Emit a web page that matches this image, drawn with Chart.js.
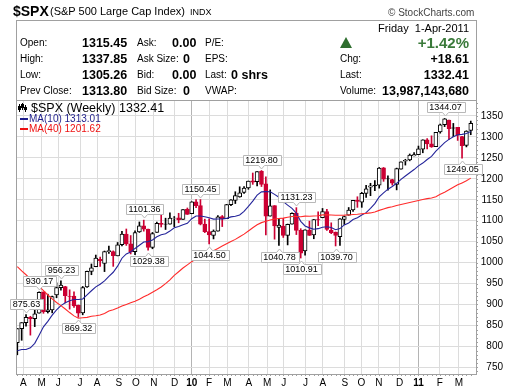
<!DOCTYPE html>
<html>
<head>
<meta charset="utf-8">
<script src="https://cdn.jsdelivr.net/npm/chart.js@4.4.1/dist/chart.umd.min.js"></script>
<style>
body { margin: 0; background: #fff; }
#wrap { position: relative; width: 520px; height: 391px; overflow: hidden; font-family: "Liberation Sans", Arial, sans-serif; color: #000; }
#wrap canvas { position: absolute; left: 0; top: 0; }
.t { position: absolute; white-space: nowrap; line-height: 14px; font-size: 10px; }
.v { font-weight: bold; font-size: 12.5px; }
#infobox { position: absolute; left: 16px; top: 20px; width: 461px; height: 81px; box-sizing: border-box; border: 1px solid #a0a0a0; }
#tri { position: absolute; left: 340px; top: 37px; width: 0; height: 0; border-left: 6px solid transparent; border-right: 6px solid transparent; border-bottom: 11px solid #2e6e2e; }
</style>
</head>
<body>
<div id="wrap">
  <canvas id="spxChart" width="520" height="391"></canvas>

  <div class="t" style="left:13px;top:3px;line-height:16px;font-size:14px;font-weight:bold">$SPX</div>
  <div class="t" style="left:50px;top:4px;font-size:11px">(S&amp;P 500 Large Cap Index)</div>
  <div class="t" style="left:190px;top:5px;font-size:9px">INDX</div>
  <div class="t" style="left:388px;top:6px;font-size:10px;color:#444">&copy; StockCharts.com</div>

  <div id="infobox"></div>
  <div class="t" style="right:51px;top:21px;font-size:11px">Friday&nbsp; 1-Apr-2011</div>

  <div class="t" style="left:20px;top:36px">Open:</div>
  <div class="t v" style="left:82px;top:36px">1315.45</div>
  <div class="t" style="left:137px;top:36px">Ask:</div>
  <div class="t v" style="left:172px;top:36px">0.00</div>
  <div class="t" style="left:205px;top:36px">P/E:</div>

  <div class="t" style="left:20px;top:52px">High:</div>
  <div class="t v" style="left:82px;top:52px">1337.85</div>
  <div class="t" style="left:137px;top:52px">Ask Size:</div>
  <div class="t v" style="left:183px;top:52px">0</div>
  <div class="t" style="left:205px;top:52px">EPS:</div>

  <div class="t" style="left:20px;top:68px">Low:</div>
  <div class="t v" style="left:82px;top:68px">1305.26</div>
  <div class="t" style="left:137px;top:68px">Bid:</div>
  <div class="t v" style="left:172px;top:68px">0.00</div>
  <div class="t" style="left:205px;top:68px">Last:</div>
  <div class="t v" style="left:231px;top:68px">0 shrs</div>

  <div class="t" style="left:20px;top:84px">Prev Close:</div>
  <div class="t v" style="left:82px;top:84px">1313.80</div>
  <div class="t" style="left:137px;top:84px">Bid Size:</div>
  <div class="t v" style="left:183px;top:84px">0</div>
  <div class="t" style="left:205px;top:84px">VWAP:</div>

  <div id="tri"></div>
  <div class="t" style="right:51px;top:35px;line-height:16px;font-size:15px;font-weight:bold;color:#3a7a3a">+1.42%</div>
  <div class="t" style="left:340px;top:52px">Chg:</div>
  <div class="t v" style="right:51px;top:52px">+18.61</div>
  <div class="t" style="left:340px;top:68px">Last:</div>
  <div class="t v" style="right:51px;top:68px">1332.41</div>
  <div class="t" style="left:340px;top:84px">Volume:</div>
  <div class="t v" style="right:51px;top:84px">13,987,143,680</div>

  <div class="t" style="left:31px;top:101px;font-size:12.5px">$SPX (Weekly) 1332.41</div>
  <div class="t" style="left:29px;top:112px;color:#1e1e8c">MA(10) 1313.01</div>
  <div class="t" style="left:29px;top:122px;color:#ee1111">MA(40) 1201.62</div>
</div>

<script>
// weekly bars, week ending 3-Apr-2009 .. 1-Apr-2011
const opens = [
  809.1, 842.5, 856.6, 869.6, 866.2, 879.0, 930.0, 883.0, 887.0, 923.0,
  940.0, 943.0, 919.0, 920.0, 898.0, 880.0, 942.0, 979.0, 990.0, 1008.0,
  998.0, 1026.0, 1026.0, 1016.0, 1043.0, 1068.0, 1045.0, 1026.0, 1073.0, 1088.0,
  1080.0, 1036.0, 1072.0, 1094.0, 1092.0, 1092.0, 1106.0, 1107.0, 1103.0, 1127.0,
  1116.6, 1145.0, 1136.0, 1092.0, 1074.0, 1065.0, 1075.0, 1110.0, 1105.0, 1138.0,
  1148.5, 1157.0, 1167.7, 1178.0, 1195.0, 1193.0, 1218.0, 1188.0, 1111.0, 1136.0,
  1084.0, 1087.0, 1064.9, 1092.0, 1118.0, 1077.0, 1028.0, 1077.0, 1066.0, 1102.9,
  1107.0, 1122.0, 1077.0, 1073.0, 1062.0, 1103.0, 1113.0, 1126.0, 1148.6, 1144.0,
  1165.0, 1180.0, 1185.0, 1185.0, 1226.0, 1200.0, 1198.0, 1186.6, 1223.0, 1242.0,
  1245.0, 1254.7, 1257.6, 1270.8, 1293.0, 1283.3, 1276.5, 1311.9, 1329.0, 1340.4,
  1321.6, 1322.7, 1301.0, 1279.5, 1315.5
];
const highs = [
  842.6, 856.6, 875.6, 871.8, 888.7, 930.2, 930.0, 924.6, 920.0, 951.7,
  956.2, 943.4, 935.0, 930.0, 898.7, 943.0, 979.8, 996.7, 1018.0, 1013.0,
  1027.6, 1039.5, 1028.0, 1048.0, 1074.8, 1080.2, 1064.6, 1076.0, 1097.0, 1101.4,
  1080.0, 1072.0, 1097.0, 1113.7, 1106.0, 1119.0, 1110.0, 1117.7, 1126.5, 1130.4,
  1145.4, 1150.4, 1150.5, 1103.7, 1104.7, 1078.0, 1112.4, 1112.4, 1139.0, 1150.2,
  1169.2, 1181.0, 1181.4, 1194.7, 1213.9, 1217.3, 1219.8, 1205.0, 1173.6, 1136.0,
  1104.0, 1105.7, 1092.0, 1119.0, 1131.2, 1081.0, 1078.0, 1099.0, 1103.0, 1120.9,
  1129.2, 1127.0, 1095.0, 1073.1, 1105.0, 1110.9, 1131.5, 1148.9, 1157.2, 1167.7,
  1184.4, 1189.4, 1196.1, 1227.1, 1227.1, 1207.4, 1198.9, 1225.6, 1240.4, 1246.7,
  1259.3, 1262.6, 1278.2, 1293.2, 1296.1, 1302.7, 1311.0, 1330.8, 1344.1, 1340.4,
  1332.3, 1322.7, 1301.5, 1314.8, 1337.9
];
const lows = [
  779.8, 814.5, 848.0, 826.8, 847.1, 879.0, 878.9, 879.6, 880.0, 916.0,
  934.0, 903.8, 888.9, 893.0, 869.3, 875.3, 941.0, 971.0, 990.0, 991.0,
  978.5, 1022.0, 991.0, 1016.0, 1040.0, 1041.0, 1020.6, 1019.0, 1072.0, 1075.0,
  1029.4, 1033.0, 1072.0, 1085.0, 1079.0, 1092.0, 1085.9, 1095.0, 1103.0, 1115.0,
  1116.6, 1131.0, 1090.0, 1071.6, 1044.5, 1056.5, 1075.0, 1086.0, 1105.0, 1136.0,
  1141.0, 1156.0, 1165.0, 1175.0, 1186.8, 1183.3, 1181.6, 1065.8, 1111.0, 1055.9,
  1040.8, 1060.0, 1042.2, 1092.0, 1066.9, 1010.9, 1018.0, 1064.9, 1056.9, 1088.0,
  1107.0, 1076.6, 1069.0, 1039.7, 1040.9, 1091.0, 1113.0, 1122.0, 1131.9, 1131.9,
  1155.7, 1159.7, 1171.7, 1177.7, 1194.0, 1173.0, 1185.0, 1173.6, 1223.0, 1232.8,
  1243.0, 1254.5, 1257.6, 1262.2, 1271.3, 1275.1, 1276.5, 1309.0, 1324.6, 1294.3,
  1300.6, 1291.7, 1249.1, 1276.2, 1305.3
];
const closes = [
  842.5, 856.6, 869.6, 866.2, 877.5, 929.2, 882.9, 887.0, 919.1, 940.1,
  946.2, 921.2, 918.9, 896.4, 879.1, 940.4, 979.3, 987.5, 1010.5, 1004.1,
  1026.1, 1028.9, 1016.4, 1042.7, 1068.3, 1044.4, 1025.2, 1071.5, 1087.7, 1079.6,
  1036.2, 1069.3, 1093.5, 1091.4, 1091.5, 1106.0, 1106.4, 1102.5, 1126.5, 1115.1,
  1145.0, 1136.0, 1091.8, 1073.9, 1066.2, 1075.5, 1109.2, 1104.5, 1138.7, 1150.0,
  1159.9, 1166.6, 1178.1, 1194.4, 1192.1, 1217.3, 1186.7, 1110.9, 1135.7, 1087.7,
  1089.4, 1064.9, 1091.6, 1117.5, 1076.8, 1022.6, 1078.0, 1064.9, 1102.7, 1101.6,
  1121.6, 1079.3, 1071.7, 1064.6, 1104.5, 1109.6, 1125.6, 1148.7, 1146.2, 1165.2,
  1176.2, 1183.1, 1183.3, 1225.9, 1199.2, 1199.7, 1189.4, 1224.7, 1240.4, 1243.9,
  1256.8, 1257.6, 1271.5, 1293.2, 1283.4, 1276.3, 1310.9, 1329.2, 1343.0, 1319.9,
  1321.2, 1304.3, 1279.2, 1313.8, 1332.4
];
const prevWeekClose = 815.9; // week before the first bar

const ma10 = [
  789.3, 792.4, 792.5, 796.4, 807.2, 826.6, 846.6, 859.6, 874.7, 887.1,
  897.4, 903.9, 908.8, 911.9, 912.0, 913.1, 922.8, 932.8, 942.0, 948.4,
  956.4, 967.1, 976.9, 991.5, 1010.4, 1020.8, 1025.4, 1033.8, 1041.5, 1049.1,
  1050.1, 1054.1, 1061.8, 1066.7, 1069.0, 1075.2, 1083.3, 1086.4, 1090.3, 1093.8,
  1104.7, 1111.4, 1111.2, 1109.5, 1106.9, 1103.9, 1104.2, 1104.4, 1105.6, 1109.1,
  1110.6, 1113.6, 1122.3, 1134.3, 1146.9, 1161.1, 1168.8, 1169.5, 1169.2, 1162.9,
  1155.9, 1145.7, 1137.1, 1129.4, 1117.9, 1098.4, 1087.5, 1082.9, 1079.6, 1081.0,
  1084.2, 1085.7, 1083.7, 1078.4, 1081.2, 1089.9, 1094.6, 1103.0, 1107.3, 1113.7,
  1119.2, 1129.5, 1140.7, 1156.8, 1166.3, 1175.3, 1181.7, 1189.3, 1198.7, 1206.6,
  1214.6, 1222.1, 1230.9, 1237.6, 1246.1, 1253.7, 1265.9, 1276.3, 1286.6, 1294.2,
  1300.6, 1305.3, 1306.1, 1308.1, 1313.0
];
const ma40 = [
  990.3, 980.1, 970.9, 961.0, 951.5, 943.3, 932.9, 922.6, 913.3, 904.7,
  897.3, 889.1, 880.7, 872.8, 867.2, 868.3, 869.2, 872.0, 873.1, 874.9,
  878.7, 884.4, 887.4, 891.6, 896.3, 900.2, 904.0, 907.5, 912.5, 918.2,
  923.3, 929.4, 935.0, 941.6, 949.7, 958.9, 969.5, 978.2, 987.1, 994.6,
  1002.2, 1009.1, 1014.7, 1019.9, 1024.6, 1028.3, 1033.9, 1039.4, 1044.8, 1050.1,
  1055.4, 1061.6, 1068.0, 1075.5, 1083.3, 1090.2, 1095.4, 1098.5, 1101.6, 1103.7,
  1105.3, 1106.2, 1108.1, 1110.0, 1110.2, 1109.6, 1111.0, 1110.8, 1111.2, 1111.7,
  1113.9, 1114.1, 1113.6, 1112.9, 1113.2, 1113.3, 1113.8, 1114.9, 1115.4, 1116.7,
  1117.5, 1118.6, 1120.9, 1124.7, 1128.1, 1131.2, 1133.2, 1136.2, 1138.7, 1141.1,
  1143.5, 1145.8, 1148.1, 1150.6, 1152.8, 1154.3, 1157.4, 1162.9, 1168.1, 1173.9,
  1179.7, 1185.6, 1190.3, 1195.2, 1201.6
];

// month ticks, in bar numbers
const monthPos = [2.4, 6.6, 10.4, 15.4, 19.3, 24.3, 28.2, 32.3, 37.1, 41,
  45, 49.2, 54.1, 58.3, 62.1, 67.1, 71.1, 76.1, 79.9, 83.9, 88.7, 93, 97.9, 102.3];
const monthLabels = ['A', 'M', 'J', 'J', 'A', 'S', 'O', 'N', 'D', '10',
  'F', 'M', 'A', 'M', 'J', 'J', 'A', 'S', 'O', 'N', 'D', '11', 'F', 'M'];
const yTicks = [750, 800, 850, 900, 950, 1000, 1050, 1100, 1150, 1200, 1250, 1300, 1350];

// high / low call-outs
const noteBars = [3, 6, 11, 15, 30, 31, 43, 45, 57, 61, 65, 66, 74, 99, 103];
const noteValues = [875.63, 930.17, 956.23, 869.32, 1101.36, 1029.38, 1150.45, 1044.50,
  1219.80, 1040.78, 1131.23, 1010.91, 1039.70, 1344.07, 1249.05];
const noteBelow = [false, false, false, true, false, true, false, true,
  false, true, false, true, true, false, true];

const RED = '#cc0033';
const barNo = closes.map((c, i) => i + 1);
const edgeColors = closes.map((c, i) => c >= (i ? closes[i - 1] : prevWeekClose) ? '#000000' : RED);
const bodyFills = closes.map((c, i) => c < opens[i] ? edgeColors[i] : '#ffffff');

// callouts + frame + legend markers
const extras = {
    id: 'extras',
    afterDraw(chart) {
        const ctx = chart.ctx;
        const a = chart.chartArea;
        const xs = chart.scales.x, ys = chart.scales.y;
        ctx.save();
        ctx.strokeStyle = '#a0a0a0';
        ctx.lineWidth = 1;
        ctx.beginPath();
        ctx.moveTo(a.left + 0.5, a.bottom);
        ctx.lineTo(a.left + 0.5, a.top + 0.5);
        ctx.lineTo(a.right, a.top + 0.5);
        // small ticks on the bottom and right borders
        barNo.forEach(b => {
            const x = Math.round(xs.getPixelForValue(b)) + 0.5;
            ctx.moveTo(x, a.bottom); ctx.lineTo(x, a.bottom + 2);
        });
        for (let v = 740; v <= 1380; v += 10) {
            const y = Math.round(ys.getPixelForValue(v)) + 0.5;
            ctx.moveTo(a.right, y); ctx.lineTo(a.right + 2, y);
        }
        ctx.stroke();

        // legend markers
        ctx.fillStyle = '#000';
        ctx.fillRect(19, 104, 1, 8);
        ctx.fillRect(22, 103, 1, 7);
        ctx.fillRect(25, 105, 1, 7);
        ctx.fillRect(18, 106, 3, 4);
        ctx.strokeStyle = '#000';
        ctx.strokeRect(21.5, 104.5, 2, 3);
        ctx.fillRect(24, 107, 3, 3);
        ctx.fillStyle = '#1e1e8c';
        ctx.fillRect(20, 118, 8, 2);
        ctx.fillStyle = '#ee1111';
        ctx.fillRect(20, 128, 8, 2);

        ctx.font = '9px "Liberation Sans", Arial, sans-serif';
        ctx.textAlign = 'center';
        ctx.textBaseline = 'middle';
        noteBars.forEach((b, i) => {
            const px = Math.round(xs.getPixelForValue(b)) + 0.5;
            const py = ys.getPixelForValue(noteValues[i]);
            const txt = noteValues[i].toFixed(2);
            const w = Math.round(ctx.measureText(txt).width) + 5;
            const h = 10;
            const l = Math.round(px - w / 2) + 0.5, r = l + w;
            let t, bt;
            ctx.beginPath();
            if (noteBelow[i]) {
                t = Math.round(py + 6) + 0.5; bt = t + h;
                ctx.moveTo(l, t); ctx.lineTo(px - 3, t); ctx.lineTo(px, t - 3.5); ctx.lineTo(px + 3, t);
                ctx.lineTo(r, t); ctx.lineTo(r, bt); ctx.lineTo(l, bt);
            } else {
                bt = Math.round(py - 6) + 0.5; t = bt - h;
                ctx.moveTo(l, t); ctx.lineTo(r, t); ctx.lineTo(r, bt);
                ctx.lineTo(px + 3, bt); ctx.lineTo(px, bt + 3.5); ctx.lineTo(px - 3, bt); ctx.lineTo(l, bt);
            }
            ctx.closePath();
            ctx.fillStyle = '#ffffff';
            ctx.fill();
            ctx.strokeStyle = '#b8b8b8';
            ctx.stroke();
            ctx.fillStyle = '#000';
            ctx.fillText(txt, px, t + h / 2 + 0.5);
        });
        ctx.restore();
    }
};

const ctx = document.getElementById('spxChart').getContext('2d');
new Chart(ctx, {
    type: 'bar',
    data: {
        datasets: [
            {
                type: 'line',
                data: barNo.map((b, i) => ({ x: b, y: ma40[i] })),
                borderColor: '#ff2b2b',
                borderWidth: 1.1,
                pointRadius: 0,
                order: 0
            },
            {
                type: 'line',
                data: barNo.map((b, i) => ({ x: b, y: ma10[i] })),
                borderColor: '#24249a',
                borderWidth: 1.1,
                pointRadius: 0,
                order: 0
            },
            {
                // candle bodies
                data: barNo.map((b, i) => ({ x: b, y: [opens[i], closes[i]] })),
                backgroundColor: bodyFills,
                borderColor: edgeColors,
                borderWidth: 1,
                borderSkipped: false,
                barThickness: 4,
                grouped: false,
                order: 1
            },
            {
                // wicks
                data: barNo.map((b, i) => ({ x: b, y: [lows[i], highs[i]] })),
                backgroundColor: edgeColors,
                borderWidth: 0,
                barThickness: 1,
                grouped: false,
                order: 2
            }
        ]
    },
    options: {
        responsive: false,
        animation: false,
        layout: { padding: { left: 16, top: 100, right: 17, bottom: 0 } },
        plugins: { legend: { display: false }, tooltip: { enabled: false } },
        scales: {
            x: {
                type: 'linear',
                offset: false,
                min: 0.7,
                max: 106.2,
                afterBuildTicks: s => { s.ticks = monthPos.map(v => ({ value: v })); },
                afterFit: s => { s.height = 17; },
                ticks: {
                    autoSkip: false,
                    maxRotation: 0,
                    padding: 3,
                    color: '#000',
                    font: c => ({ family: '"Liberation Sans", Arial', size: 10,
                        weight: (monthLabels[c.index] || '').length > 1 ? 'bold' : 'normal' }),
                    callback: (v, i) => monthLabels[i]
                },
                grid: {
                    offset: false,
                    drawTicks: false,
                    color: c => (monthLabels[c.index] || '').length > 1 ? '#b4b4b4' : '#dcdcdc'
                },
                border: { color: '#a0a0a0' }
            },
            y: {
                position: 'right',
                min: 734,
                max: 1388.2,
                afterBuildTicks: s => { s.ticks = yTicks.map(v => ({ value: v })); },
                afterFit: s => { s.width = 27; },
                ticks: {
                    crossAlign: 'far',
                    padding: 4,
                    color: '#000',
                    font: { family: '"Liberation Sans", Arial', size: 10 },
                    callback: v => String(v)
                },
                grid: { drawTicks: false, color: '#dcdcdc' },
                border: { color: '#a0a0a0' }
            }
        }
    },
    plugins: [extras]
});
</script>
</body>
</html>
